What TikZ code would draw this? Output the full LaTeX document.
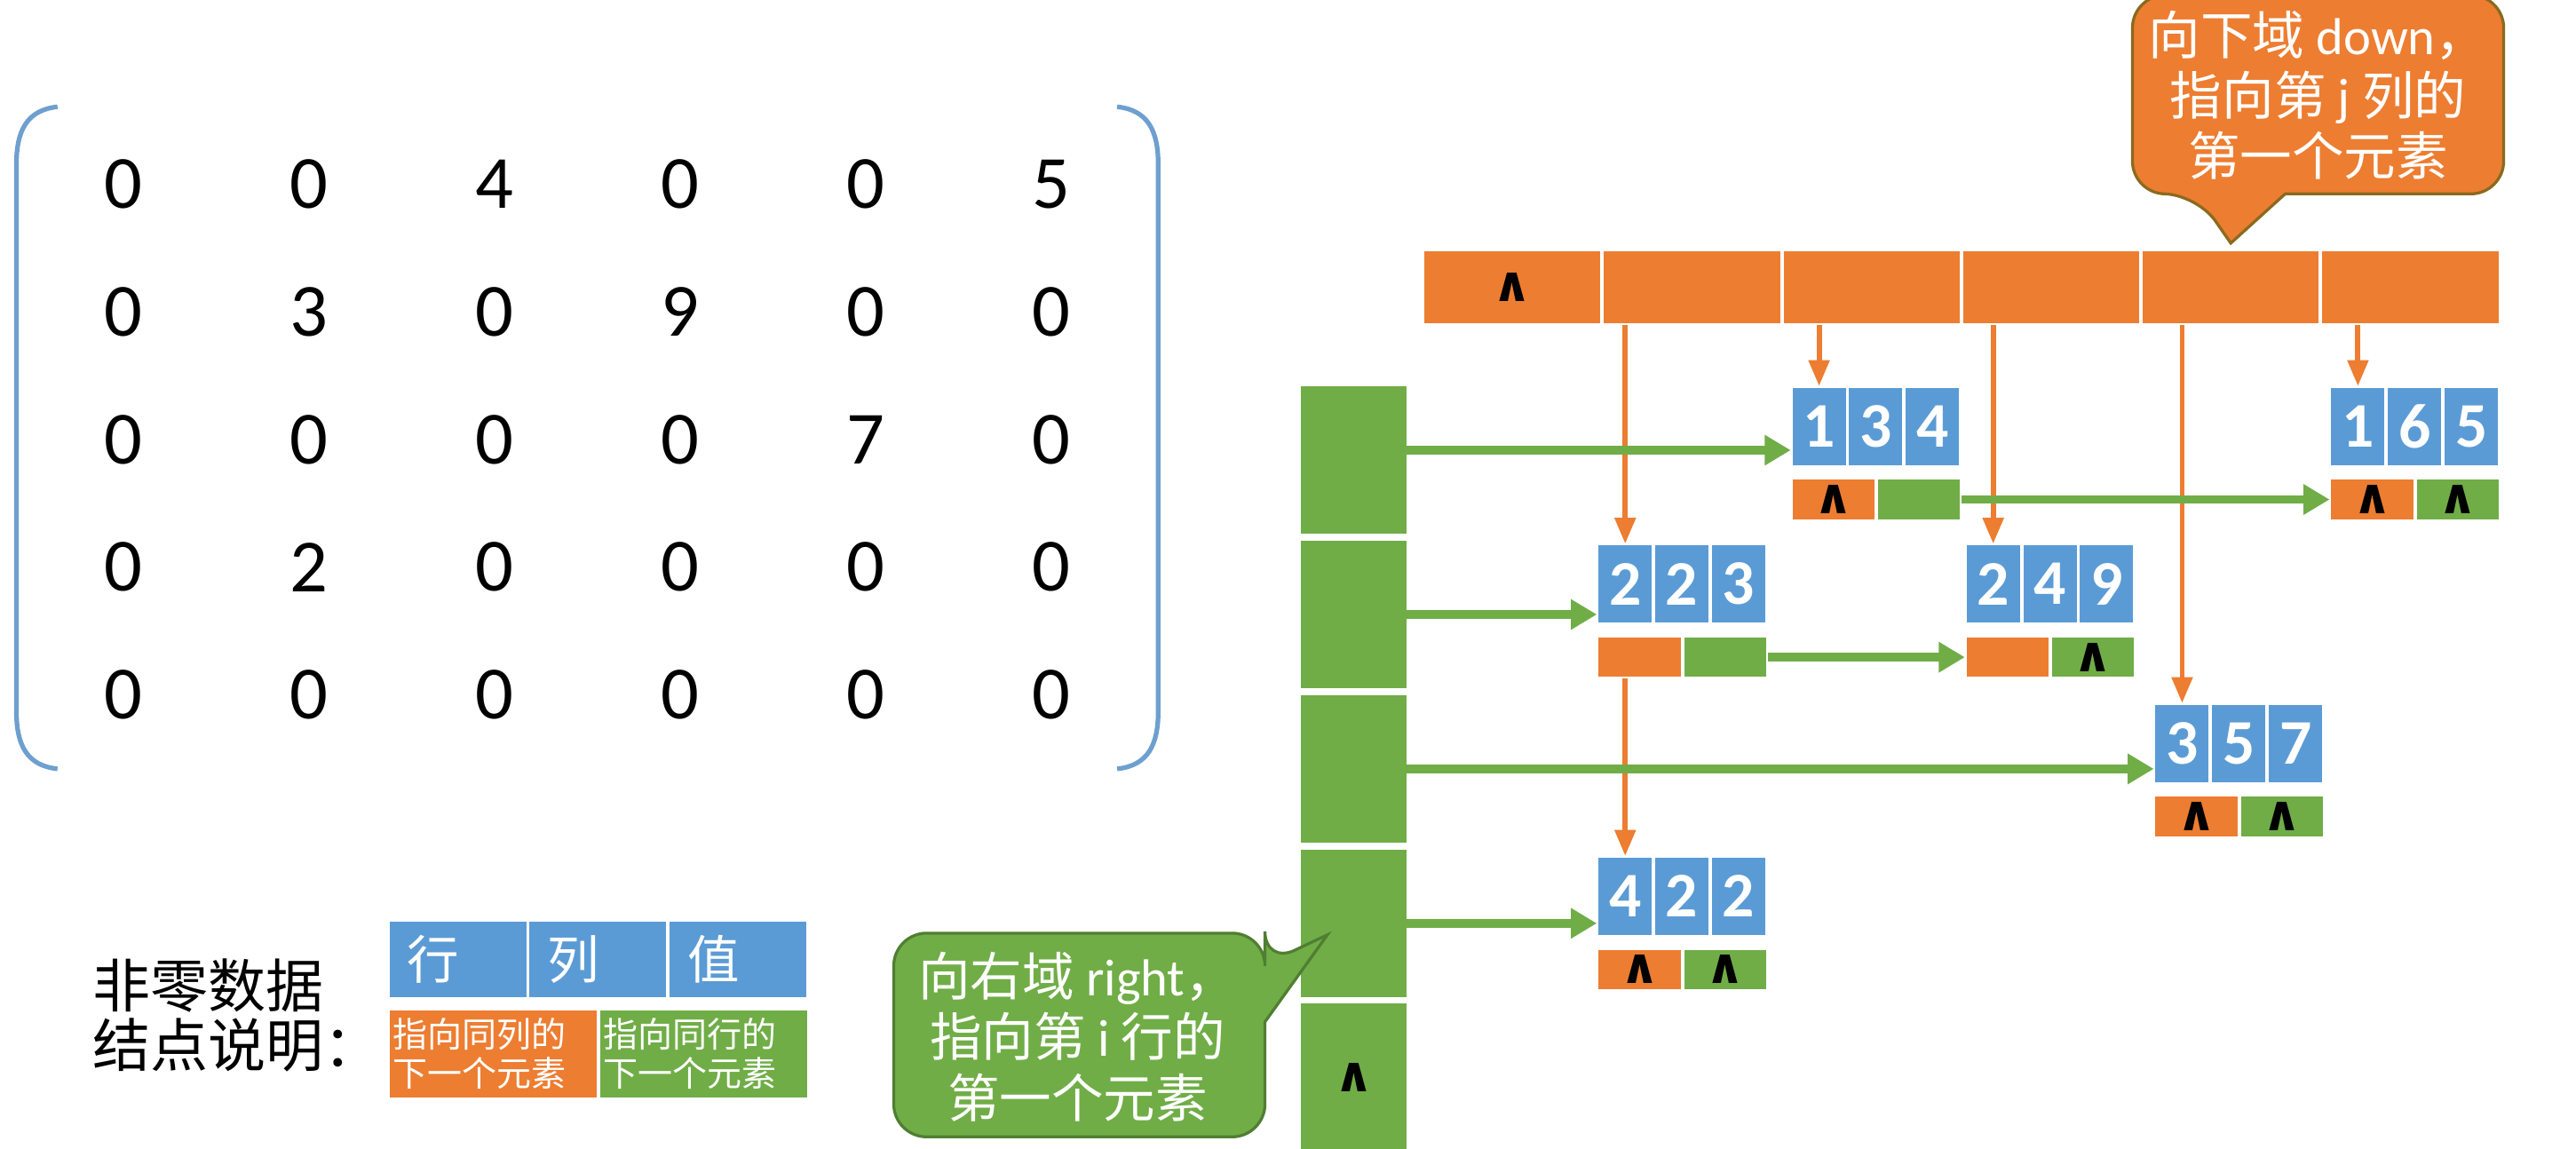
\documentclass[tikz,border=0pt]{standalone}
\usepackage{fontspec}
\setmainfont{Carlito}
\newfontfamily\cjk{Noto Sans CJK SC}
\newfontfamily\symf{DejaVu Sans}
\usetikzlibrary{arrows.meta,positioning,calc}

\definecolor{cblue}{HTML}{5B9BD5}
\definecolor{corange}{HTML}{ED7D31}
\definecolor{cgreen}{HTML}{70AD47}
\definecolor{cbrack}{HTML}{6E9FCF}
\definecolor{cobrd}{HTML}{8A6A1E}
\definecolor{cgbrd}{HTML}{507E32}

\newcommand{\nil}{{\symf\bfseries\fontsize{8.5}{8.5}\selectfont ∧}}

% one non-zero entry: name, top-left corner, row, column, value, down field, right field
\newcommand{\olnode}[7]{%
  \node[vcell, anchor=north west] (#1r) at (#2) {#3};
  \node[vcell, right=0pt of #1r] (#1c) {#4};
  \node[vcell, right=0pt of #1c] (#1v) {#5};
  \node[dcell, anchor=north west] (#1d) at ([yshift=-0.07cm]#1r.south west) {#6};
  \node[rcell, right=0pt of #1d] (#1g) {#7};
}

\begin{document}
\begin{tikzpicture}[x=0.01cm, y=-0.01cm,
    vcell/.style={fill=cblue, draw=white, line width=0.6pt, inner sep=0pt, outer sep=0pt,
      minimum width=0.345cm, minimum height=0.49cm, text=white, font=\bfseries\fontsize{11}{12}\selectfont},
    dcell/.style={fill=corange, draw=white, line width=0.6pt, inner sep=0pt, outer sep=0pt,
      minimum width=0.52cm, minimum height=0.26cm},
    rcell/.style={dcell, fill=cgreen},
    hcol/.style={fill=corange, draw=white, line width=0.6pt, inner sep=0pt, outer sep=0pt,
      minimum width=1.093cm, minimum height=0.46cm},
    hrow/.style={fill=cgreen, inner sep=0pt, outer sep=0pt, minimum width=0.64cm, minimum height=0.9cm},
    mnum/.style={font=\fontsize{13}{15}\selectfont},
    brack/.style={draw=cbrack, line width=0.8pt},
    darr/.style={draw=corange, line width=0.9pt, -{Triangle[width=3.5pt,length=4.5pt]}},
    rarr/.style={draw=cgreen, line width=1.5pt, -{Triangle[width=5pt,length=4.5pt]}},
    ctext/.style={text=white, align=center, font=\fontsize{9}{10.5}\selectfont},
    leg/.style={draw=white, line width=0.6pt, inner ysep=0pt, outer sep=0pt, align=left, text=white}
  ]
    \fill[white] (0,0) rectangle (1568,699);
    \useasboundingbox (0,0) rectangle (1568,699);

    % Matrix
    \draw[brack] (35,65) .. controls (16,67) and (10,80) .. (10,100) -- (10,433)
      .. controls (10,453) and (16,466) .. (35,468);
    \draw[brack] (680,65) .. controls (699,67) and (705,80) .. (705,100) -- (705,433)
      .. controls (705,453) and (699,466) .. (680,468);
    \foreach \mrow [count=\i] in {{0,0,4,0,0,5},{0,3,0,9,0,0},{0,0,0,0,7,0},{0,2,0,0,0,0},{0,0,0,0,0,0}}
      \foreach \v [count=\j] in \mrow
        \node[mnum] (m\i\j) at ({75+(\j-1)*113},{112+(\i-1)*77.75}) {\v};

    % Column heads (down)
    \foreach \i in {1,...,6}
      \node[hcol, anchor=north west] (col\i) at ({866+(\i-1)*109.3},152) {};
    \node at (col1) {\nil};

    % Row heads (right)
    \foreach \i in {1,...,5}
      \node[hrow, anchor=north west] (row\i) at (792,{235+(\i-1)*94}) {};
    \node at (row5) {\nil};

    % Entries
    \olnode{n134}{1090,235}{1}{3}{4}{\nil}{}
    \olnode{n165}{1418,235}{1}{6}{5}{\nil}{\nil}
    \olnode{n223}{972,331}{2}{2}{3}{}{}
    \olnode{n249}{1196,331}{2}{4}{9}{}{\nil}
    \olnode{n357}{1311,428}{3}{5}{7}{\nil}{\nil}
    \olnode{n422}{972,521}{4}{2}{2}{\nil}{\nil}

    % Edges: down pointers
    \draw[darr] (col2.south -| n223r.north) -- (n223r.north);
    \draw[darr] (col3.south -| n134r.north) -- (n134r.north);
    \draw[darr] (col4.south -| n249r.north) -- (n249r.north);
    \draw[darr] (col5.south -| n357r.north) -- (n357r.north);
    \draw[darr] (col6.south -| n165r.north) -- (n165r.north);
    \draw[darr] (n223d.south -| n422r.north) -- (n422r.north);

    % Edges: right pointers
    \draw[rarr] ([yshift=0.06cm]row1.east) -- ([yshift=0.06cm]row1.east -| n134r.west);
    \draw[rarr] (n134g.east) -- (n165d.west);
    \draw[rarr] (row2.east) -- (row2.east -| n223r.west);
    \draw[rarr] (n223g.east) -- (n249d.west |- n223g.east);
    \draw[rarr] (row3.east) -- (row3.east -| n357r.west);
    \draw[rarr] (row4.east) -- (row4.east -| n422r.west);

    % Callouts
    \filldraw[fill=corange, draw=cobrd, line width=0.5pt] (1337,118) -- ([yshift=0.04cm]col5.north) -- (1391,118)
      [rounded corners=0.2cm] -- (1524,118) -- (1524,-3) -- (1298,-3) -- (1298,118) -- cycle;
    \node[ctext] (dnote) at (1411,58) {{\cjk 向下域} down{\cjk ，}\\{\cjk 指向第} j {\cjk 列的}\\{\cjk 第一个元素}};

    \filldraw[fill=cgreen, draw=cgbrd, line width=0.5pt] (770,587) -- (808,569) -- (770,622)
      [rounded corners=0.2cm] -- (770,692) -- (544,692) -- (544,568) -- (770,568) -- cycle;
    \node[ctext] (rnote) at (656,631) {{\cjk 向右域} right{\cjk ，}\\{\cjk 指向第} i {\cjk 行的}\\{\cjk 第一个元素}};

    % Legend
    \node[anchor=west, align=left, font=\cjk\fontsize{10}{10.2}\selectfont] (legtxt) at (44,618) {非零数据\\结点说明：};
    \node[leg, fill=cblue, anchor=north west, minimum height=0.48cm, text width=0.613cm, inner xsep=0.12cm,
      font=\cjk\fontsize{9}{10}\selectfont] (lrow) at (236,560) {行};
    \node[leg, fill=cblue, right=0pt of lrow, minimum height=0.48cm, text width=0.613cm, inner xsep=0.12cm,
      font=\cjk\fontsize{9}{10}\selectfont] (lcol) {列};
    \node[leg, fill=cblue, right=0pt of lcol, minimum height=0.48cm, text width=0.613cm, inner xsep=0.12cm,
      font=\cjk\fontsize{9}{10}\selectfont] (lval) {值};
    \node[leg, fill=corange, anchor=north west, minimum height=0.55cm, text width=1.22cm, inner xsep=0.03cm,
      font=\cjk\fontsize{6}{6.8}\selectfont] (ldown) at (236,614) {指向同列的\\下一个元素};
    \node[leg, fill=cgreen, right=0pt of ldown, minimum height=0.55cm, text width=1.22cm, inner xsep=0.03cm,
      font=\cjk\fontsize{6}{6.8}\selectfont] (lright) {指向同行的\\下一个元素};
\end{tikzpicture}
\end{document}
